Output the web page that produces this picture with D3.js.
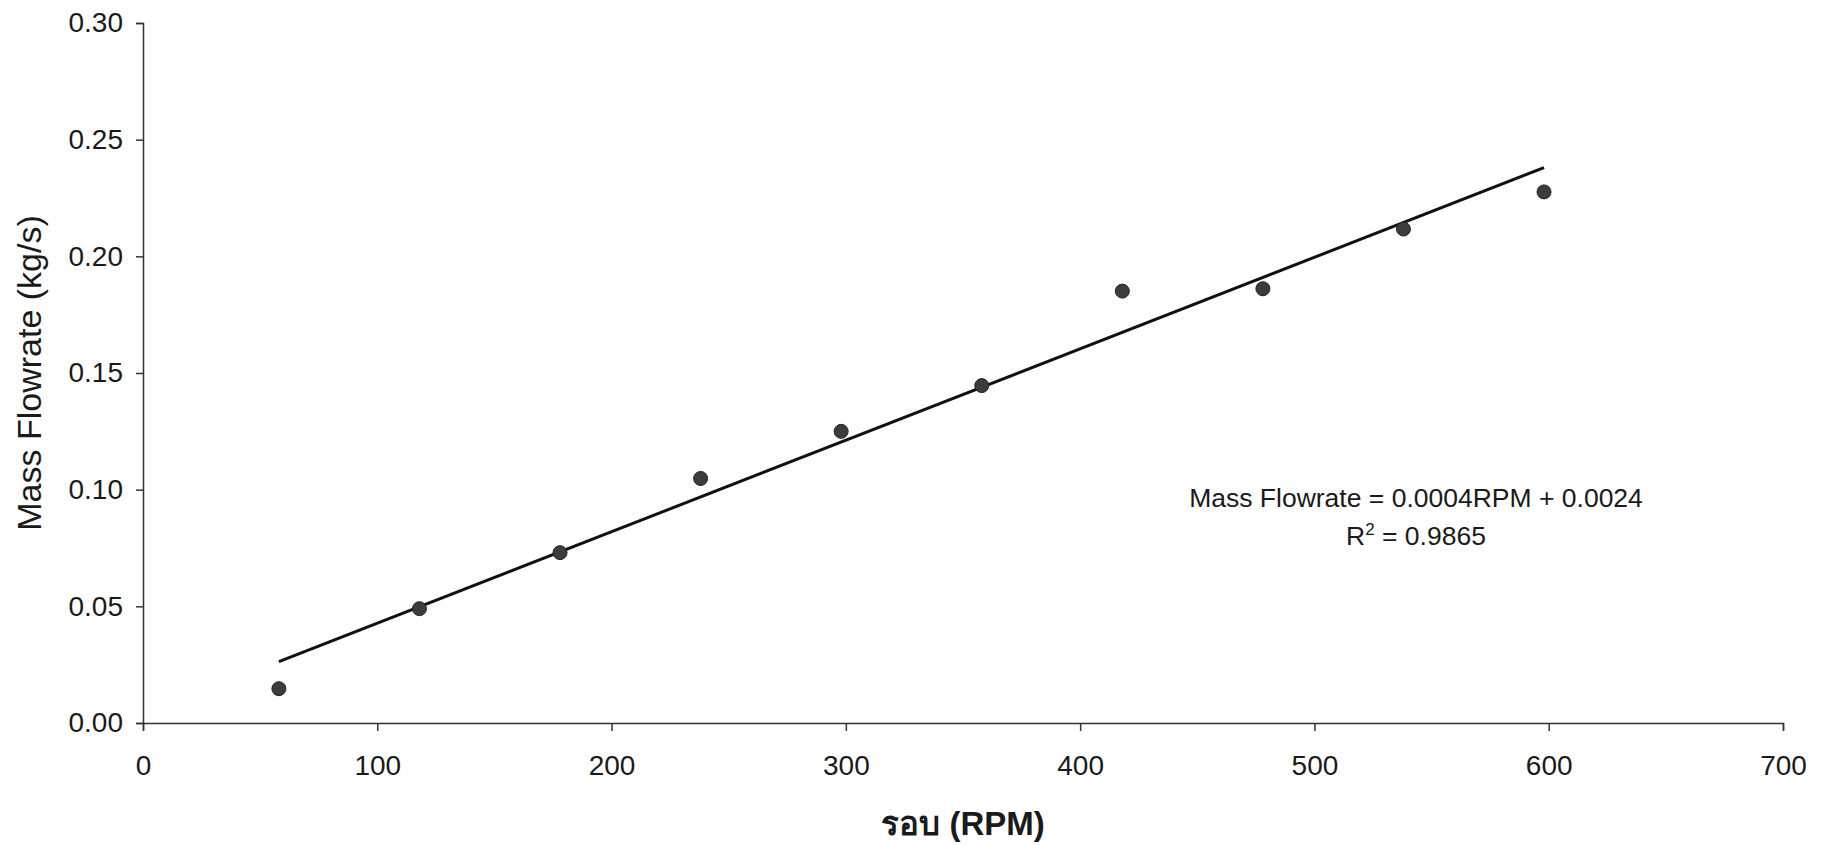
<!DOCTYPE html>
<html lang="th">
<head>
<meta charset="UTF-8">
<title>Mass Flowrate vs RPM</title>
<script src="https://d3js.org/d3.v7.min.js"></script>
<style>
  body { margin: 0; background: #fff; }
  svg text { font-family: "Liberation Sans", Arial, "DejaVu Sans", sans-serif; fill: #1a1a1a; }
  .axis path, .axis line { stroke: #333; stroke-width: 1.5; }
</style>
</head>
<body>
<div class="chart"></div>
<script>
  // readings (RPM vs kg/s)
  const rpm = [58, 118, 178, 238, 298, 358, 418, 478, 538, 598];
  const flow = [0.0147, 0.0490, 0.0730, 0.1048, 0.1250, 0.1446, 0.1851, 0.1861, 0.2117, 0.2276];
  const xTicks = [0, 100, 200, 300, 400, 500, 600, 700];
  const yTicks = [0, 0.05, 0.10, 0.15, 0.20, 0.25, 0.30];
  const eqLines = ['Mass Flowrate = 0.0004RPM + 0.0024', 'R', '2', ' = 0.9865'];

  const W = 1822, H = 845;
  const margin = {top: 23, right: 39, bottom: 122, left: 143};
  const width = W - margin.left - margin.right, height = H - margin.top - margin.bottom;

  const svg = d3.select('.chart').append('svg')
    .attr('width', W).attr('height', H);
  const g = svg.append('g').attr('transform', `translate(${margin.left} ${margin.top})`);

  const x = d3.scaleLinear().domain([0, 700]).range([0, width]);
  const y = d3.scaleLinear().domain([0, 0.3]).range([height, 0]);

  g.append('g').attr('class', 'axis')
    .call(d3.axisLeft(y).tickValues(yTicks).tickFormat(d3.format('.2f')).tickSize(7).tickPadding(13))
    .selectAll('text').style('font-size', '28px');

  g.append('g').attr('class', 'axis').attr('transform', `translate(0 ${height})`)
    .call(d3.axisBottom(x).tickValues(xTicks).tickSize(8).tickPadding(24))
    .selectAll('text').style('font-size', '28px');

  // linear fit (least squares)
  const mx = d3.mean(rpm), my = d3.mean(flow);
  const slope = d3.sum(rpm, (v, i) => (v - mx) * (flow[i] - my)) / d3.sum(rpm, v => (v - mx) ** 2);
  const icpt = my - slope * mx;
  const ends = d3.extent(rpm);
  g.append('line')
    .attr('x1', x(ends[0])).attr('y1', y(slope * ends[0] + icpt))
    .attr('x2', x(ends[1])).attr('y2', y(slope * ends[1] + icpt))
    .attr('stroke', '#111').attr('stroke-width', 3);

  g.selectAll('.dot').data(rpm).enter().append('circle')
    .attr('class', 'dot')
    .attr('cx', d => x(d)).attr('cy', (d, i) => y(flow[i]))
    .attr('r', 7)
    .attr('fill', '#3c3c3c').attr('stroke', '#222').attr('stroke-width', 1);

  const eq = svg.append('text').attr('text-anchor', 'middle').style('font-size', '26.5px');
  eq.append('tspan').attr('x', 1416).attr('y', 507).text(eqLines[0]);
  const r2 = svg.append('text').attr('text-anchor', 'middle').attr('x', 1416).attr('y', 545).style('font-size', '26.5px');
  r2.append('tspan').text(eqLines[1]);
  r2.append('tspan').attr('dy', -10).style('font-size', '17px').text(eqLines[2]);
  r2.append('tspan').attr('dy', 10).text(eqLines[3]);

  svg.append('text')
    .attr('x', margin.left + width / 2).attr('y', 835)
    .attr('text-anchor', 'middle').style('font-size', '33px').style('font-weight', 'bold')
    .text('รอบ (RPM)');

  svg.append('text')
    .attr('transform', `translate(41 ${margin.top + height / 2}) rotate(-90)`)
    .attr('text-anchor', 'middle').style('font-size', '34px')
    .text('Mass Flowrate (kg/s)');
</script>
</body>
</html>
